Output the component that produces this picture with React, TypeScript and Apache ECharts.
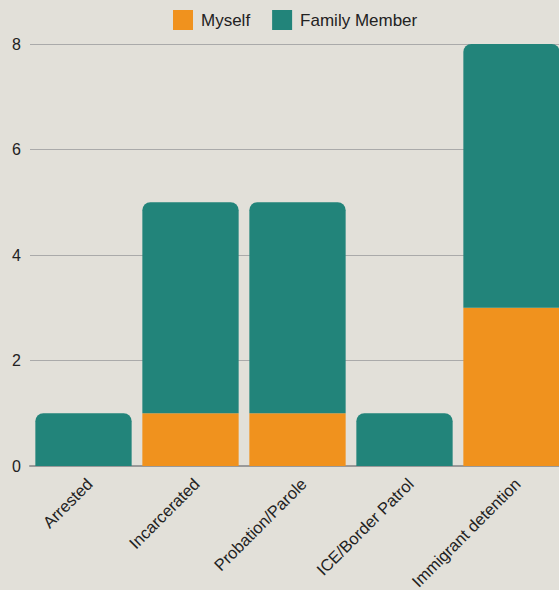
import React, { useEffect, useRef } from "react";
import * as echarts from "echarts";

const categories = ["Arrested", "Incarcerated", "Probation/Parole", "ICE/Border Patrol", "Immigrant detention"];
const myself = [0, 1, 1, 0, 3];
const familyMember = [1, 4, 4, 1, 5];

export default function App() {
  const ref = useRef<HTMLDivElement>(null);
  useEffect(() => {
    document.body.style.margin = "0";
    document.body.style.overflow = "hidden";
    document.body.style.background = "#e2e0d9";
    const chart = echarts.init(ref.current!, null, { renderer: "svg" });
    chart.setOption({
      animation: false,
      backgroundColor: "#e2e0d9",
      textStyle: { fontFamily: "Liberation Sans, Arial, sans-serif" },
      legend: {
        top: 5,
        left: 168,
        itemWidth: 20,
        itemHeight: 20,
        itemGap: 22,
        icon: "rect",
        textStyle: { fontSize: 17, color: "#222", padding: [0, 0, 0, 3] },
        data: ["Myself", "Family Member"],
      },
      grid: {
        left: 30,
        right: 0,
        top: 44,
        bottom: 124,
        containLabel: false,
        outerBoundsMode: "none",
      },
      xAxis: {
        type: "category",
        data: categories,
        axisTick: { show: false },
        axisLine: { lineStyle: { color: "#999", width: 2 } },
        axisLabel: {
          rotate: 45,
          fontSize: 16.5,
          color: "#222",
          margin: 9,
          interval: 0,
          verticalAlign: "top",
        },
      },
      yAxis: {
        type: "value",
        min: 0,
        max: 8,
        interval: 2,
        axisLabel: { fontSize: 16, color: "#222", margin: 9 },
        splitLine: { lineStyle: { color: "#aaa", width: 1 } },
      },
      series: [
        {
          name: "Myself",
          type: "bar",
          stack: "total",
          data: myself,
          barCategoryGap: "10%",
          itemStyle: { color: "#f0921e" },
        },
        {
          name: "Family Member",
          type: "bar",
          stack: "total",
          data: familyMember,
          barCategoryGap: "10%",
          itemStyle: { color: "#22847a", borderRadius: [8, 8, 0, 0] },
        },
      ],
    });
    return () => chart.dispose();
  }, []);
  return <div ref={ref} style={{ width: 565, height: 590 }} />;
}
